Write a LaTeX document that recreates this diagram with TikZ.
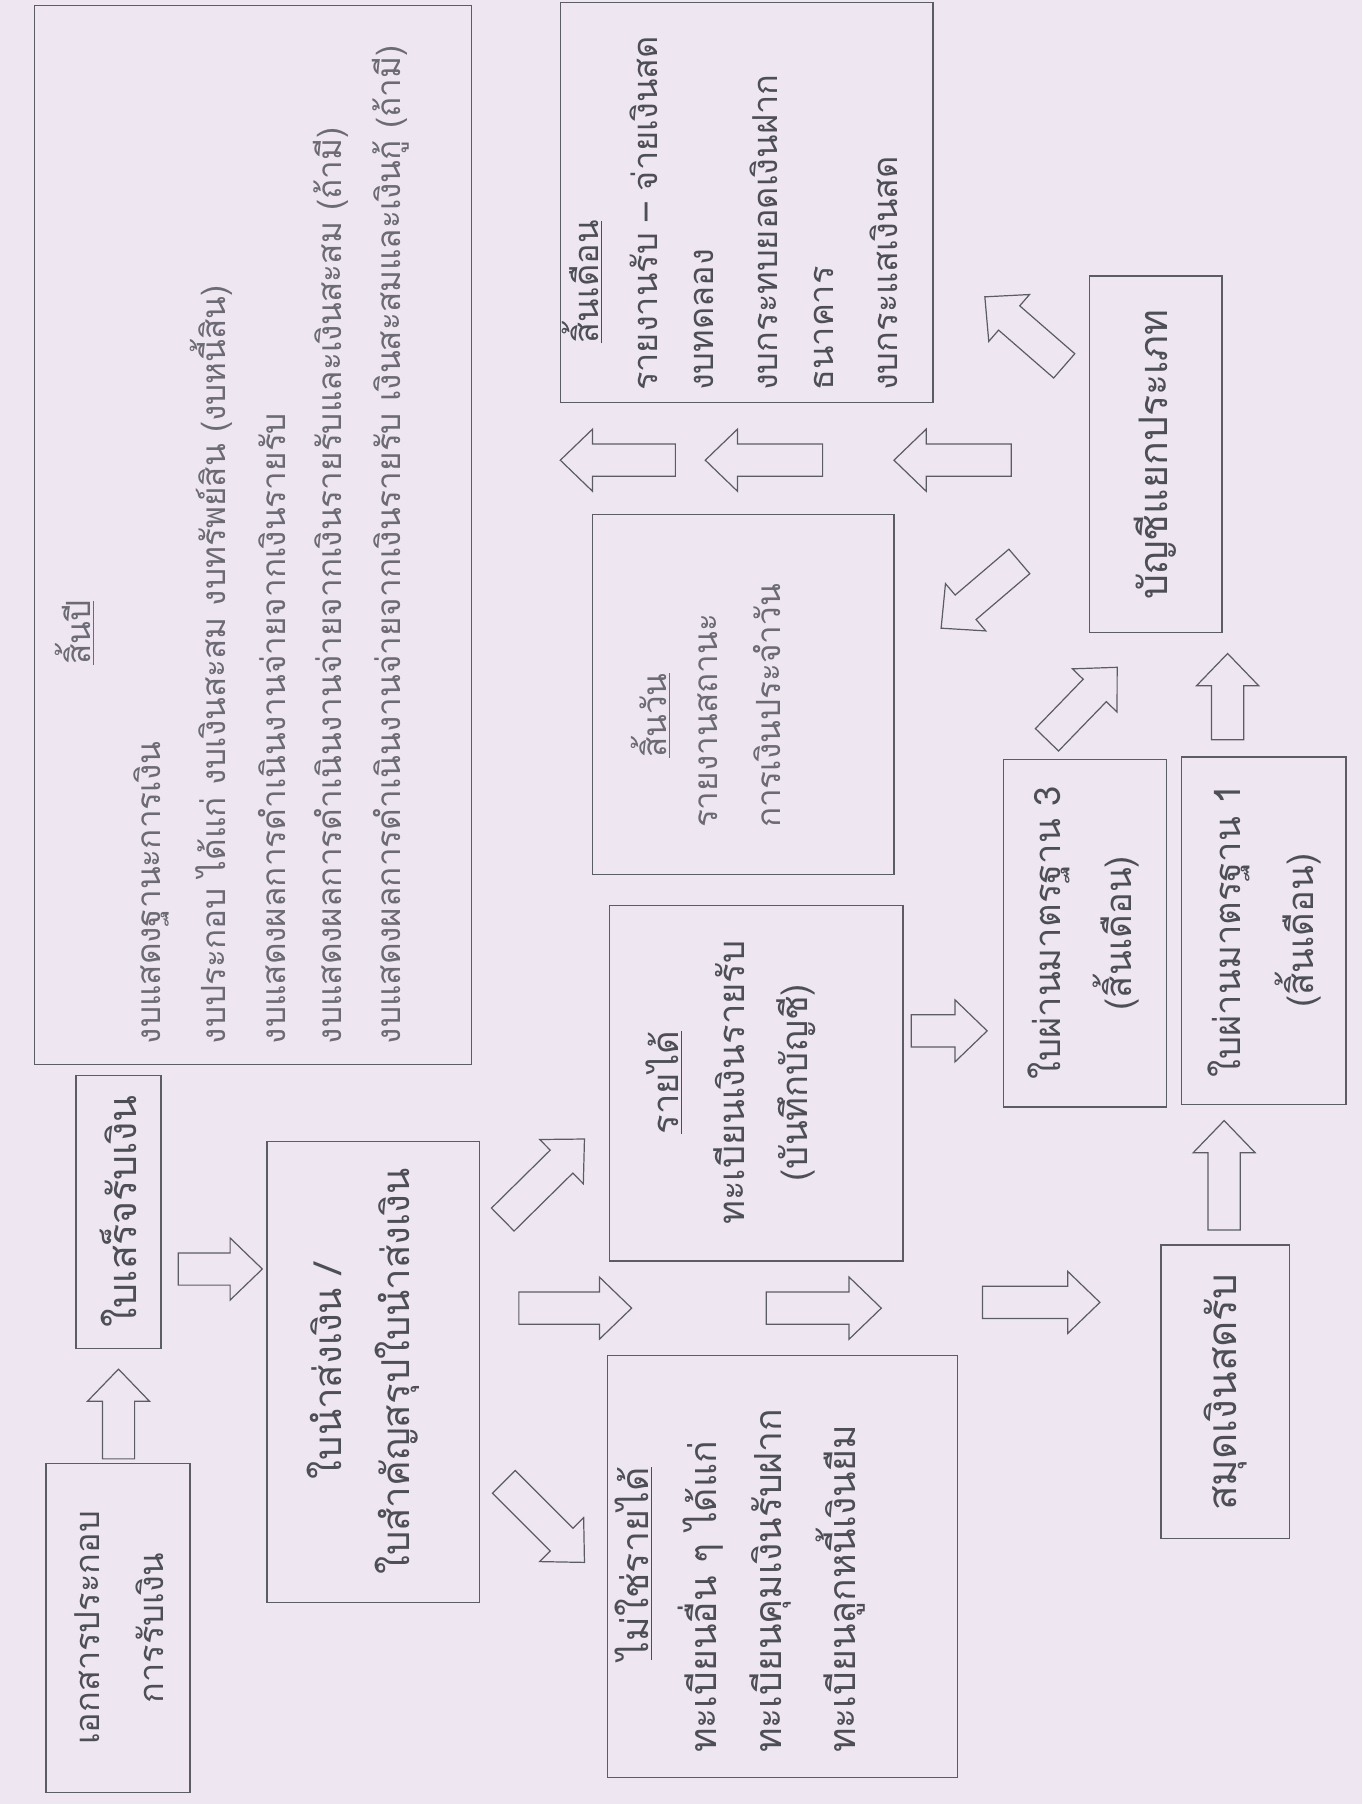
\documentclass[tikz,border=0pt]{standalone}
\usepackage{fontspec}
\newfontfamily\thaifont[Script=Thai]{Loma}
\usetikzlibrary{calc,fit,positioning}
\definecolor{paper}{RGB}{238,231,241}
\definecolor{ink}{RGB}{78,78,86}
\definecolor{faint}{RGB}{108,106,116}
\definecolor{boxline}{RGB}{92,92,100}
\tikzset{
	box/.style={draw=boxline, line width=0.7pt, inner sep=0pt},
	thaitext/.style={rotate=90, inner sep=0pt, text=ink, font=\thaifont\fontsize{#1}{#1}\selectfont},
	thaitext/.default=16,
	barrow/.style={draw=boxline, line width=0.6pt, fill=paper, line join=miter}
}
% hollow block arrow from tail #1 to tip #2
\newcommand{\arshaft}{0.28cm}
\newcommand{\arwing}{0.54cm}
\newcommand{\arhead}{0.56cm}
\newcommand{\blockarrow}[2]{%
	\draw[barrow] ($(#1)!\arshaft!90:(#2)$) -- ($(#2)!\arhead!(#1)!\arshaft!-90:(#1)$)
		-- ($(#2)!\arhead!(#1)!\arwing!-90:(#1)$) -- (#2)
		-- ($(#2)!\arhead!(#1)!\arwing!90:(#1)$) -- ($(#2)!\arhead!(#1)!\arshaft!90:(#1)$)
		-- ($(#1)!\arshaft!-90:(#2)$) -- cycle;}

\begin{document}
\begin{tikzpicture}[x=0.02cm, y=-0.02cm]
	\fill[paper] (0,0) rectangle (1184,1568);
	\useasboundingbox (0,0) rectangle (1184,1568);

	% boxes
	\node[box, fit={(30,5) (410,925)}] (yearend) {};
	\node[box, fit={(66,935) (140,1172)}] (receipt) {};
	\node[box, fit={(40,1272) (165,1558)}] (docs) {};
	\node[box, fit={(232,992) (417,1393)}] (remit) {};
	\node[box, fit={(530,787) (785,1096)}] (income) {};
	\node[box, fit={(528,1178) (832,1545)}] (nonincome) {};
	\node[box, fit={(515,447) (777,760)}] (daily) {};
	\node[box, fit={(487,2) (811,350)}] (monthly) {};
	\node[box, fit={(872,660) (1014,962)}] (jvthree) {};
	\node[box, fit={(1027,658) (1170,960)}] (jvone) {};
	\node[box, fit={(1009,1082) (1121,1337)}] (cashbook) {};
	\node[box, fit={(947,240) (1062,550)}] (ledger) {};

	% year end
	\node[thaitext=16.5, text=faint] (yeartitle) at (65,550) {\underline{สิ้นปี}};
	\foreach \line [count=\i from 0] in {งบแสดงฐานะการเงิน,
		งบประกอบ ได้แก่ งบเงินสะสม งบทรัพย์สิน (งบหนี้สิน),
		งบแสดงผลการดำเนินงานจ่ายจากเงินรายรับ,
		งบแสดงผลการดำเนินงานจ่ายจากเงินรายรับและเงินสะสม (ถ้ามี),
		งบแสดงผลการดำเนินงานจ่ายจากเงินรายรับ เงินสะสมและเงินกู้ (ถ้ามี)}
		\node[thaitext=16.5, text=faint, anchor=west] (year\i) at ({132+52*\i},908) {\line};

	% receipt side
	\node[thaitext=17] (docsa) at (76,1415) {เอกสารประกอบ};
	\node[thaitext=17] (docsb) at (130,1415) {การรับเงิน};
	\node[thaitext=19.5] (receipttxt) at (103,1053) {ใบเสร็จรับเงิน};
	\node[thaitext=19] (remita) at (282,1192) {ใบนำส่งเงิน /};
	\node[thaitext=19] (remitb) at (345,1192) {ใบสำคัญสรุปใบนำส่งเงิน};

	% income / non income
	\node[thaitext=18] (incomea) at (577,941) {\underline{รายได้}};
	\node[thaitext=18] (incomeb) at (634,941) {ทะเบียนเงินรายรับ};
	\node[thaitext=18] (incomec) at (692,941) {(บันทึกบัญชี)};
	\node[thaitext=18.5] (nontitle) at (551,1359) {\underline{ไม่ใช่รายได้}};
	\foreach \line [count=\i from 0] in {ทะเบียนอื่น ๆ ได้แก่, ทะเบียนคุมเงินรับฝาก, ทะเบียนลูกหนี้เงินยืม}
		\node[thaitext=18.5, anchor=west] (non\i) at ({609+61*\i},1524) {\line};

	% daily, monthly
	\node[thaitext=16.5, text=faint] (daytitle) at (566,622) {\underline{สิ้นวัน}};
	\node[thaitext=16.5, text=faint, anchor=west] (daya) at (615,720) {รายงานสถานะ};
	\node[thaitext=16.5, text=faint, anchor=west] (dayb) at (667,720) {การเงินประจำวัน};
	\node[thaitext=17] (monthtitle) at (506,245) {\underline{สิ้นเดือน}};
	\foreach \line [count=\i from 0] in {รายงานรับ – จ่ายเงินสด, งบทดลอง, งบกระทบยอดเงินฝาก, ธนาคาร, งบกระแสเงินสด}
		\node[thaitext=17, anchor=west] (month\i) at ({560+52*\i},340) {\line};

	% journal vouchers, cash book, ledger
	\node[thaitext=18] (jvthreea) at (912,811) {ใบผ่านมาตรฐาน 3};
	\node[thaitext=18] (jvthreeb) at (970,811) {(สิ้นเดือน)};
	\node[thaitext=18] (jvonea) at (1068,809) {ใบผ่านมาตรฐาน 1};
	\node[thaitext=18] (jvoneb) at (1128,809) {(สิ้นเดือน)};
	\node[thaitext=20] (cashtxt) at (1065,1210) {สมุดเงินสดรับ};
	\node[thaitext=19.5] (ledgertxt) at (1004,395) {บัญชีแยกประเภท};

	% arrow ends
	\coordinate (dr1) at (103,1268);  \coordinate (dr2) at (103,1190);
	\coordinate (rr1) at (155,1103);  \coordinate (rr2) at (228,1103);
	\coordinate (ri1) at (437,1060);  \coordinate (ri2) at (508,990);
	\coordinate (rn1) at (438,1288);  \coordinate (rn2) at (508,1358);
	\coordinate (rg1) at (451,1137);  \coordinate (rg2) at (549,1137);
	\coordinate (gg1) at (666,1137);  \coordinate (gg2) at (766,1137);
	\coordinate (gc1) at (854,1132);  \coordinate (gc2) at (956,1132);
	\coordinate (cj1) at (1064,1069); \coordinate (cj2) at (1064,974);
	\coordinate (ij1) at (792,896);   \coordinate (ij2) at (858,896);
	\coordinate (jl1) at (910,643);   \coordinate (jl2) at (971,580);
	\coordinate (ol1) at (1067,643);  \coordinate (ol2) at (1067,568);
	\coordinate (lm1) at (925,318);   \coordinate (lm2) at (856,258);
	\coordinate (ld1) at (886,488);   \coordinate (ld2) at (818,546);

	\blockarrow{dr1}{dr2}
	\blockarrow{rr1}{rr2}
	\blockarrow{ri1}{ri2}
	\blockarrow{rn1}{rn2}
	\blockarrow{rg1}{rg2}
	\blockarrow{gg1}{gg2}
	\blockarrow{gc1}{gc2}
	\blockarrow{cj1}{cj2}
	\blockarrow{ij1}{ij2}
	\blockarrow{jl1}{jl2}
	\blockarrow{ol1}{ol2}
	\blockarrow{lm1}{lm2}
	\blockarrow{ld1}{ld2}

	% ledger to year end
	\foreach \a/\b [count=\i] in {879/777, 715/613, 587/487} {
		\coordinate (ly\i a) at (\a,400);
		\coordinate (ly\i b) at (\b,400);
		\blockarrow{ly\i a}{ly\i b}
	}
\end{tikzpicture}
\end{document}
